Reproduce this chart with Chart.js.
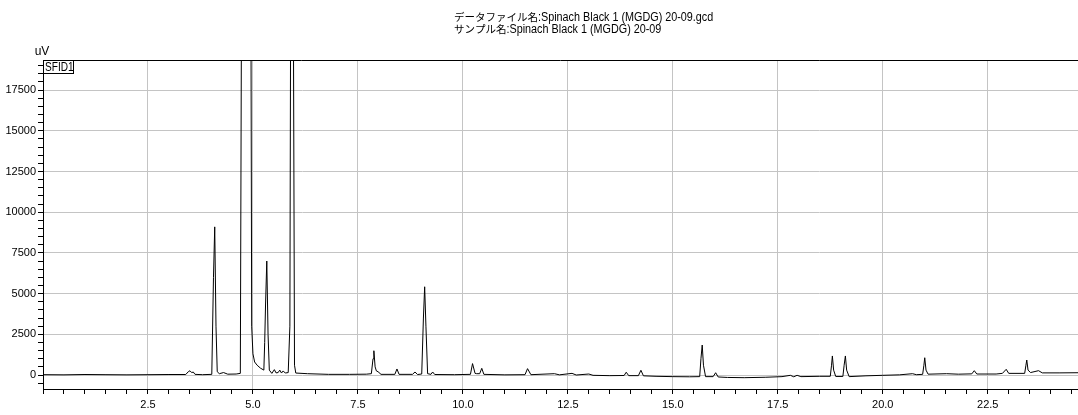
<!DOCTYPE html>
<html>
<head>
<meta charset="utf-8">
<script src="https://cdn.jsdelivr.net/npm/chart.js@4/dist/chart.umd.min.js"></script>
<style>
  html, body { margin:0; padding:0; background:#fff; }
  #wrap { width:1078px; height:415px; }
</style>
</head>
<body>
<div id="wrap"><canvas id="mycanvas" width="1078" height="415"></canvas></div>
<script>
// chromatogram (time in min, signal in uV)
var retentionTime = [
  0.00, 0.50, 1.00, 1.50, 2.00, 2.50, 3.00, 3.40, 3.46, 3.50, 3.54, 3.58, 3.62, 3.80,
  4.02, 4.06, 4.09, 4.12, 4.15, 4.20, 4.30, 4.40, 4.60, 4.70, 4.73, 4.95, 4.97,
  5.00, 5.04, 5.10, 5.18, 5.26, 5.28, 5.30, 5.33, 5.36, 5.39, 5.45, 5.51, 5.55,
  5.60, 5.64, 5.68, 5.72, 5.77, 5.84, 5.88, 5.90, 5.96, 5.99, 6.02, 6.30, 6.80,
  7.30, 7.70, 7.82, 7.86, 7.88, 7.91, 7.94, 7.98, 8.05, 8.38, 8.43, 8.48, 8.80,
  8.86, 8.92, 9.02, 9.06, 9.09, 9.12, 9.16, 9.24, 9.28, 9.33, 9.80, 10.18, 10.23,
  10.29, 10.33, 10.40, 10.45, 10.50, 11.00, 11.48, 11.54, 11.62, 12.18, 12.30,
  12.60, 12.70, 13.00, 13.10, 13.50, 13.84, 13.89, 13.95, 14.18, 14.24, 14.30,
  14.60, 15.00, 15.40, 15.64, 15.67, 15.70, 15.73, 15.78, 15.96, 16.02, 16.08,
  16.30, 16.70, 17.20, 17.60, 17.80, 17.88, 17.96, 18.05, 18.50, 18.75, 18.78,
  18.80, 18.83, 18.88, 19.05, 19.08, 19.11, 19.14, 19.20, 19.60, 20.00, 20.40,
  20.71, 20.80, 20.95, 20.98, 21.00, 21.03, 21.08, 21.52, 21.80, 22.12, 22.18,
  22.24, 22.70, 22.85, 22.94, 23.00, 23.38, 23.41, 23.43, 23.46, 23.52, 23.71,
  23.80, 24.20, 24.65
];
var signal = [
  20, 10, 30, 20, 10, 20, 30, 30, 200, 260, 150, 180, 40, 20,
  40, 6000, 9100, 3000, 200, 80, 150, 50, 60, 100, 25000, 25000, 3000,
  1300, 800, 600, 420, 300, 2000, 4300, 7000, 2500, 300, 100, 330, 130,
  150, 300, 120, 250, 120, 150, 3000, 25000, 25000, 600, 120, 80, 40,
  40, 50, 80, 1000, 1490, 500, 250, 200, 40, 40, 370, 40, 40,
  185, 30, 60, 3500, 5420, 3000, 80, 40, 185, 30, 20, 40, 700,
  100, 80, 80, 410, 40, 10, 20, 390, 20, 80, 10,
  100, 0, 60, -20, -40, -30, 170, -40, -40, 290, -50,
  -80, -100, -110, -100, 1000, 1840, 600, -100, -100, 140, -120,
  -150, -165, -140, -100, -20, -110, -20, -100, -80, -80, 600,
  1170, 300, -90, -90, 600, 1170, 300, -100, -50, -20, 10,
  80, 20, 40, 600, 1060, 300, 50, 80, 50, 70, 265,
  60, 60, 100, 350, 100, 100, 600, 920, 300, 150, 265,
  130, 130, 140
];

// header text: [japanese prefix, rest]
var titleLines = [
  ["データファイル名", ":Spinach Black 1 (MGDG) 20-09.gcd"],
  ["サンプル名", ":Spinach Black 1 (MGDG) 20-09"]
];
var yUnit = "uV";
var channelName = "SFID1";

var X_MIN = 0, X_MAX = 24.65, X_MINOR = 0.5, X_MAJOR = 2.5;
var Y_MIN = -860, Y_MAX = 19350, Y_MINOR = 500, Y_MAJOR = 2500;

var FONT_FAMILY = '"Liberation Sans", "Noto Sans CJK JP", sans-serif';

var points = [];
for (var i = 0; i < retentionTime.length; i++) {
  points.push({ x: retentionTime[i], y: signal[i] });
}

function isMult(v, step) {
  return Math.abs(v / step - Math.round(v / step)) < 1e-6;
}
function tickList(min, max, step) {
  var out = [];
  for (var k = Math.ceil(min / step); k * step <= max + 1e-9; k++) out.push({ value: k * step });
  return out;
}
// narrow text, the original uses a condensed gothic face
function narrowText(ctx, txt, x, y, sx) {
  ctx.save();
  ctx.translate(x, y);
  ctx.scale(sx, 1);
  ctx.fillText(txt, 0, 0);
  ctx.restore();
}

var overlay = {
  id: 'overlay',
  afterDraw: function(chart) {
    var ctx = chart.ctx, a = chart.chartArea;
    ctx.save();
    // frame top
    ctx.strokeStyle = '#000';
    ctx.lineWidth = 1;
    ctx.beginPath();
    ctx.moveTo(a.left, a.top + 0.5);
    ctx.lineTo(a.right, a.top + 0.5);
    ctx.stroke();
    // channel label box
    ctx.fillStyle = '#fff';
    ctx.fillRect(a.left, a.top, 31, 13);
    ctx.strokeRect(a.left + 0.5, a.top + 0.5, 30, 13);
    ctx.fillStyle = '#000';
    ctx.font = '12px ' + FONT_FAMILY;
    ctx.textBaseline = 'middle';
    ctx.textAlign = 'left';
    narrowText(ctx, channelName, a.left + 2, a.top + 7.5, 0.84);
    // unit
    ctx.textAlign = 'center';
    ctx.fillText(yUnit, a.left - 1, a.top - 8);
    // title
    ctx.textAlign = 'left';
    ctx.textBaseline = 'alphabetic';
    var baselines = [21, 33];
    for (var j = 0; j < titleLines.length; j++) {
      var x0 = 454;
      ctx.font = '10.5px "Noto Sans CJK JP", sans-serif';
      ctx.fillText(titleLines[j][0], x0, baselines[j]);
      var w0 = ctx.measureText(titleLines[j][0]).width;
      ctx.font = '12px ' + FONT_FAMILY;
      narrowText(ctx, titleLines[j][1], x0 + w0, baselines[j], 0.9);
    }
    ctx.restore();
  }
};

var ctx = document.getElementById("mycanvas");
var chromChart = new Chart(ctx, {
  type: 'line',
  data: {
    datasets: [{
      label: channelName,
      data: points,
      borderColor: '#000',
      borderWidth: 1,
      pointRadius: 0,
      tension: 0,
      fill: false
    }]
  },
  options: {
    responsive: false,
    animation: false,
    layout: { padding: { top: 60, left: 0, right: 0, bottom: 0 } },
    plugins: {
      legend: { display: false },
      tooltip: { enabled: false },
      title: { display: false }
    },
    scales: {
      x: {
        type: 'linear',
        min: X_MIN,
        max: X_MAX,
        afterFit: function(s) { s.height = 26; },
        afterBuildTicks: function(s) { s.ticks = tickList(X_MIN, X_MAX, X_MINOR); },
        ticks: {
          autoSkip: false,
          maxRotation: 0,
          padding: 4,
          color: '#000',
          font: { family: FONT_FAMILY, size: 11 },
          callback: function(v) {
            return (isMult(v, X_MAJOR) && v !== 0) ? v.toFixed(1) : '';
          }
        },
        grid: {
          color: function(c) {
            return (c.tick && isMult(c.tick.value, X_MAJOR)) ? '#c4c4c4' : 'rgba(0,0,0,0)';
          },
          tickColor: '#000',
          tickLength: 5,
          lineWidth: 1
        },
        border: { display: true, color: '#000', width: 1 }
      },
      y: {
        type: 'linear',
        min: Y_MIN,
        max: Y_MAX,
        afterFit: function(s) { s.width = 43; },
        afterBuildTicks: function(s) { s.ticks = tickList(Y_MIN, Y_MAX, Y_MINOR); },
        ticks: {
          autoSkip: false,
          padding: 2,
          color: '#000',
          font: { family: FONT_FAMILY, size: 11 },
          callback: function(v) {
            return isMult(v, Y_MAJOR) ? String(v) : '';
          }
        },
        grid: {
          color: function(c) {
            return (c.tick && isMult(c.tick.value, Y_MAJOR)) ? '#c4c4c4' : 'rgba(0,0,0,0)';
          },
          tickColor: '#000',
          tickLength: 5,
          lineWidth: 1
        },
        border: { display: true, color: '#000', width: 1 }
      }
    }
  },
  plugins: [overlay]
});
</script>
</body>
</html>
